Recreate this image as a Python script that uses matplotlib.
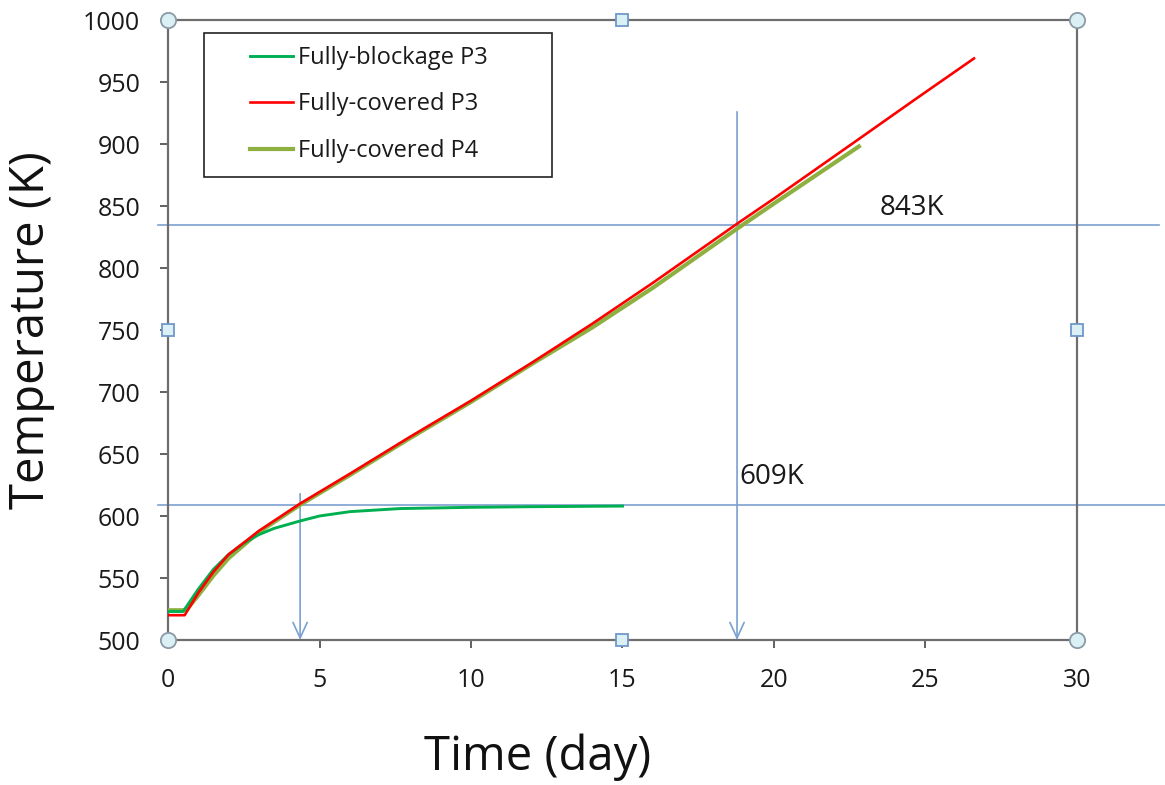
import numpy as np
import matplotlib
matplotlib.use("Agg")
import matplotlib.pyplot as plt
from matplotlib.patches import Rectangle

# values (day, K)
blk_p3_day = [0, 0.5, 1.0, 1.5, 2.0, 2.5, 3.0, 3.5, 4.36, 5.0, 6.0, 7.66, 10.0, 12.0, 15.0]
blk_p3_temp = [523, 523, 541, 557, 569, 578, 585, 590, 596, 600, 603.5, 606, 607, 607.5, 608]

cov_p3_day = [0, 0.55, 1.0, 1.5, 2.0, 3.0, 4.36, 6.0, 8.0, 10.0, 12.0, 14.0, 16.0, 18.8, 20.0, 22.8, 24.6, 26.6]
cov_p3_temp = [520, 520, 538, 555, 569, 588, 610, 634, 664, 693, 723.5, 755, 788, 836, 856, 904, 935, 969]

cov_p4_day = [0, 0.6, 1.0, 1.5, 2.0, 3.0, 4.36, 6.0, 8.0, 10.0, 12.0, 14.0, 16.0, 18.8, 20.0, 22.8]
cov_p4_temp = [524, 524, 536, 552, 566, 587, 609, 633, 663, 692, 722.5, 752, 784, 832, 852, 898]

labels = ["Fully-blockage P3", "Fully-covered P3", "Fully-covered P4"]
colors = ["#00b050", "#ff0000", "#8db040"]

hline_levels = [834.7, 609]
hline_ends = [32.7, 33.0]
hline_texts = ["843K", "609K"]
text_pos = [(23.5, 848), (18.87, 631.5)]
arrow_days = [4.36, 18.78]
arrow_tops = [618, 926]

plt.rcParams["font.family"] = ["Open Sans", "DejaVu Sans"]

fig = plt.figure(figsize=(11.65, 7.85), dpi=100)
ax = fig.add_axes([168 / 1165, 1 - 640 / 785, 909 / 1165, 620 / 785])

ax.plot(cov_p3_day, cov_p3_temp, color=colors[1], lw=1.9, label=labels[1], zorder=4)
ax.plot(cov_p4_day, cov_p4_temp, color=colors[2], lw=3.0, label=labels[2], zorder=3)
ax.plot(blk_p3_day, blk_p3_temp, color=colors[0], lw=2.1, label=labels[0], zorder=3.5)

ref_col = "#7ba0cf"
for lvl, xend in zip(hline_levels, hline_ends):
    ax.plot([-0.33, xend], [lvl, lvl], color=ref_col, lw=1.2, clip_on=False, zorder=2)
for d, top in zip(arrow_days, arrow_tops):
    ax.annotate("", xy=(d, 500), xytext=(d, top),
                arrowprops=dict(arrowstyle="->,head_length=0.7,head_width=0.32",
                                color=ref_col, lw=1.2, mutation_scale=16,
                                shrinkA=0, shrinkB=0),
                annotation_clip=False, zorder=2)
for t, (tx, ty) in zip(hline_texts, text_pos):
    ax.text(tx, ty, t, fontsize=20, color="#1a1a1a", va="center", ha="left")

ax.set_xlim(0, 30)
ax.set_ylim(500, 1000)
ax.set_xticks(range(0, 31, 5))
ax.set_yticks(range(500, 1001, 50))
ax.tick_params(axis="both", direction="out", length=6, width=1.3, color="#555555",
               labelsize=18, labelcolor="#1a1a1a", pad=14)
ax.tick_params(top=False, right=False)
for s in ax.spines.values():
    s.set_color("#6e6e6e")
    s.set_linewidth(1.6)

ax.set_xlabel("Time (day)", fontsize=34, color="#111111")
ax.set_ylabel("Temperature (K)", fontsize=34, color="#111111")
ax.xaxis.set_label_coords(0.407, -0.189)
ax.xaxis.label.set_va("center")
ax.yaxis.set_label_coords(-0.15, 0.5)
ax.yaxis.label.set_va("center")

handles, labs = ax.get_legend_handles_labels()
order = [2, 0, 1]
leg = ax.legend([handles[i] for i in order], [labs[i] for i in order],
                loc="upper left", bbox_to_anchor=(82 / 909, 1 - 26 / 620),
                fontsize=17, frameon=False, handlelength=1.8,
                handletextpad=0.25, labelspacing=0.95, borderpad=0, borderaxespad=0)
for txt in leg.get_texts():
    txt.set_color("#1a1a1a")
ax.add_patch(Rectangle((36 / 909, 463 / 620), 348 / 909, 144 / 620, transform=ax.transAxes,
                       fill=False, ec="#222222", lw=1.2, zorder=5))

# selection handles at the plot-area corners and edge midpoints
ax.plot([0, 30, 0, 30], [500, 500, 1000, 1000], ls="none", marker="o", ms=11,
        mfc="#daf0f4", mec="#8a9aa6", mew=1.3, clip_on=False, zorder=6)
ax.plot([15, 15, 0, 30], [1000, 500, 750, 750], ls="none", marker="s", ms=9,
        mfc="#daf0f4", mec="#6f98c8", mew=1.3, clip_on=False, zorder=6)

fig.savefig("out.png", dpi=100, facecolor="white")
